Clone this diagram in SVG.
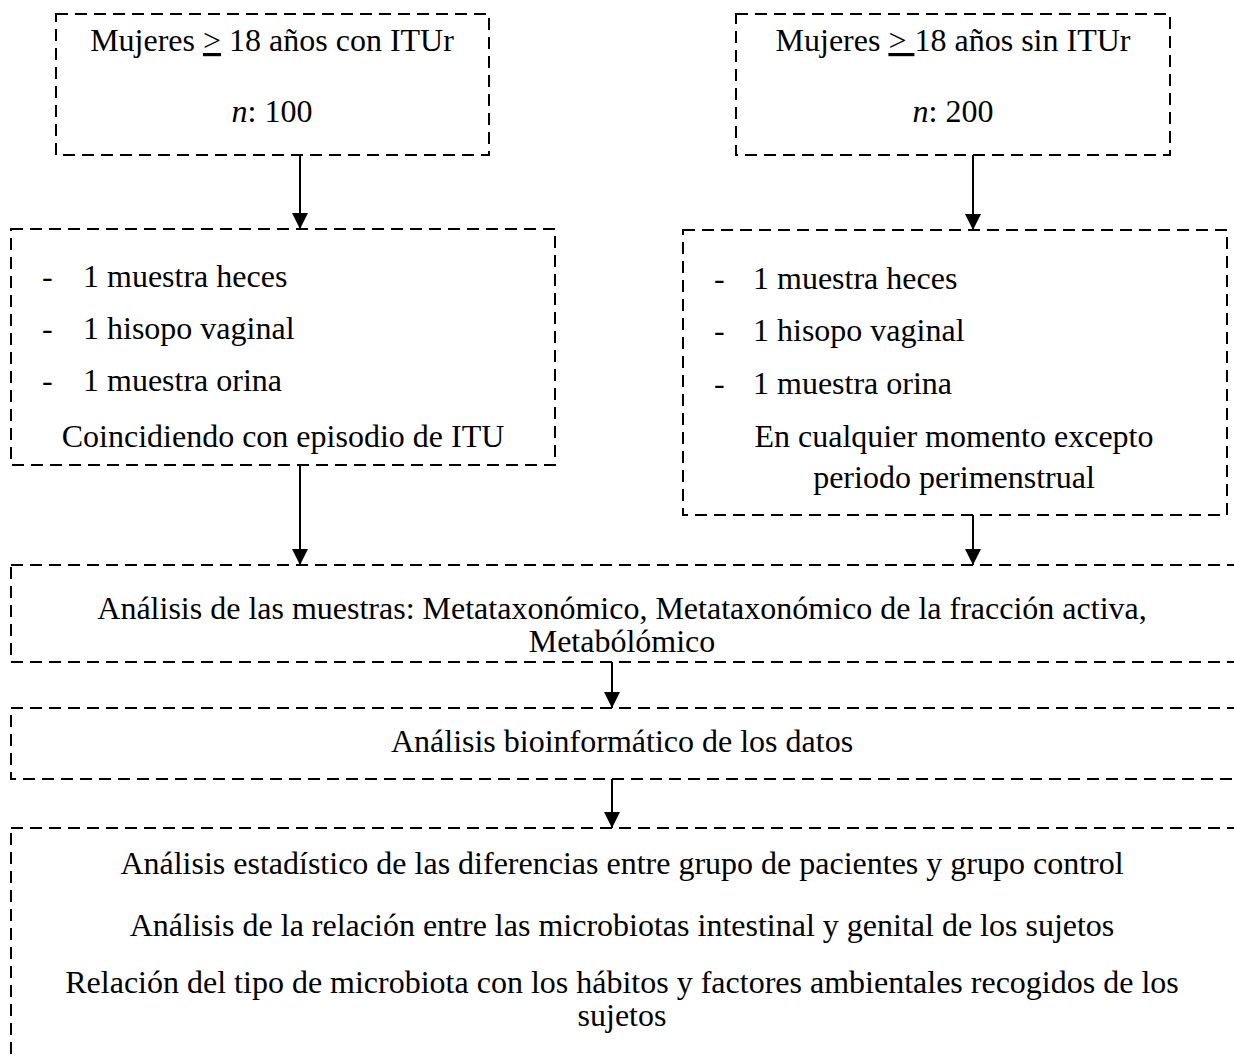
<svg xmlns="http://www.w3.org/2000/svg" width="1234" height="1060" viewBox="0 0 1234 1060">
<style>
.box{fill:none;stroke:#000;stroke-width:2;stroke-dasharray:12 7}
.t{font-family:"Liberation Serif","Times New Roman",serif;font-size:32px;fill:#000}
.c{text-anchor:middle}
.conn line{stroke:#000;stroke-width:2}
</style>
<defs>
<marker id="ah2" viewBox="0 0 16 16" refX="16" refY="8" markerWidth="16" markerHeight="16" markerUnits="userSpaceOnUse" orient="auto">
<path d="M0,0 L16,8 L0,16 Z" fill="#000"/>
</marker>
</defs>
<rect width="1234" height="1060" fill="#fff"/>
<g id="n1">
<rect class="box" x="56" y="14" width="433" height="141"/>
<text class="t c" x="272" y="51">Mujeres <tspan text-decoration="underline">&gt;</tspan> 18 años con ITUr</text>
<text class="t c" x="272" y="122"><tspan font-style="italic">n</tspan>: 100</text>
</g>
<g id="n2">
<rect class="box" x="736" y="14" width="434" height="141"/>
<text class="t c" x="953" y="51">Mujeres <tspan text-decoration="underline">&gt; </tspan>18 años sin ITUr</text>
<text class="t c" x="953" y="122"><tspan font-style="italic">n</tspan>: 200</text>
</g>
<g id="n3">
<rect class="box" x="11" y="229" width="544" height="236"/>
<text class="t" x="42" y="287">-</text><text class="t" x="83" y="287">1 muestra heces</text>
<text class="t" x="42" y="339">-</text><text class="t" x="83" y="339">1 hisopo vaginal</text>
<text class="t" x="42" y="391">-</text><text class="t" x="83" y="391">1 muestra orina</text>
<text class="t c" x="283" y="447">Coincidiendo con episodio de ITU</text>
</g>
<g id="n4">
<rect class="box" x="683" y="230" width="544" height="285"/>
<text class="t" x="714" y="289">-</text><text class="t" x="753" y="289">1 muestra heces</text>
<text class="t" x="714" y="341">-</text><text class="t" x="753" y="341">1 hisopo vaginal</text>
<text class="t" x="714" y="394">-</text><text class="t" x="753" y="394">1 muestra orina</text>
<text class="t c" x="954" y="447">En cualquier momento excepto</text>
<text class="t c" x="954" y="488">periodo perimenstrual</text>
</g>
<g id="n5">
<rect class="box" x="11" y="565" width="1240" height="97"/>
<text class="t c" x="622" y="619">Análisis de las muestras: Metataxonómico, Metataxonómico de la fracción activa,</text>
<text class="t c" x="622" y="652">Metabólómico</text>
</g>
<g id="n6">
<rect class="box" x="11" y="708" width="1240" height="71"/>
<text class="t c" x="622" y="752">Análisis bioinformático de los datos</text>
</g>
<g id="n7">
<rect class="box" x="11" y="828" width="1240" height="260"/>
<text class="t c" x="622" y="874">Análisis estadístico de las diferencias entre grupo de pacientes y grupo control</text>
<text class="t c" x="622" y="936">Análisis de la relación entre las microbiotas intestinal y genital de los sujetos</text>
<text class="t c" x="622" y="993">Relación del tipo de microbiota con los hábitos y factores ambientales recogidos de los</text>
<text class="t c" x="622" y="1026">sujetos</text>
</g>
<g id="connectors" class="conn">
<line x1="300" y1="155" x2="300" y2="229" marker-end="url(#ah2)"/>
<line x1="973" y1="155" x2="973" y2="230" marker-end="url(#ah2)"/>
<line x1="300" y1="465" x2="300" y2="565" marker-end="url(#ah2)"/>
<line x1="973" y1="515" x2="973" y2="565" marker-end="url(#ah2)"/>
<line x1="612" y1="662" x2="612" y2="708" marker-end="url(#ah2)"/>
<line x1="612" y1="779" x2="612" y2="828" marker-end="url(#ah2)"/>
</g>
</svg>
